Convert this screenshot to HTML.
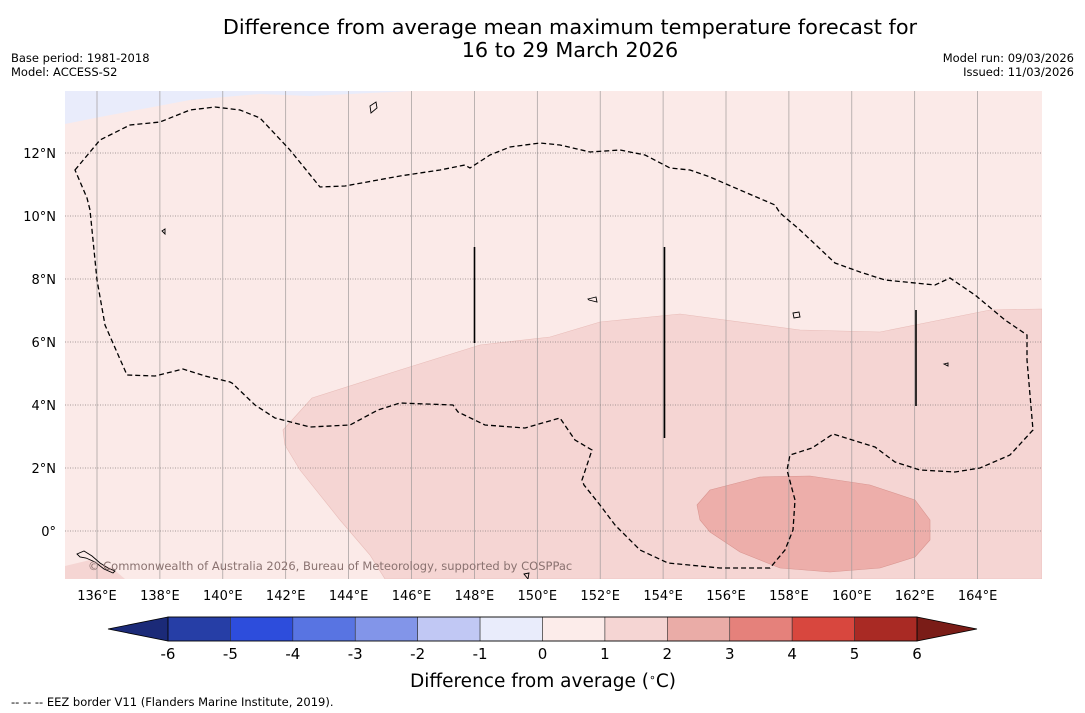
<!DOCTYPE html>
<html><head><meta charset="utf-8"><style>
body{margin:0;width:1085px;height:713px;background:#fff;font-family:"DejaVu Sans","Liberation Sans",sans-serif;overflow:hidden}
svg{position:absolute;left:0;top:0}
</style></head><body>
<svg width="1085" height="713" font-family="DejaVu Sans, Liberation Sans, sans-serif">
<text x="570" y="34" font-size="20.8" text-anchor="middle">Difference from average mean maximum temperature forecast for</text>
<text x="570" y="57" font-size="20.8" text-anchor="middle">16 to 29 March 2026</text>
<text x="11" y="62" font-size="11.5">Base period: 1981-2018</text>
<text x="11" y="76" font-size="11.5">Model: ACCESS-S2</text>
<text x="1074" y="62" font-size="11.5" text-anchor="end">Model run: 09/03/2026</text>
<text x="1074" y="76" font-size="11.5" text-anchor="end">Issued: 11/03/2026</text>
<defs><clipPath id="mc"><rect x="65" y="91" width="977" height="488"/></clipPath></defs>
<g clip-path="url(#mc)">
<rect x="65" y="91" width="977" height="488" fill="#fbeae8"/>
<path d="M65,91 L65,124 L100,117 L190,100 L260,94 L310,96 L410,91 Z" fill="#e9ecfb"/>
<path d="M283,430 L312,398 L400,370 L480,345 L550,337 L600,322 L680,314 L800,330 L880,332 L940,320 L990,310 L1042,309 L1042,579 L385,579 L370,555 L340,520 L300,470 L285,445 Z" fill="#f5d5d3" stroke="#e8bcb8" stroke-width="0.6"/>
<path d="M65,566 L90,560 L112,568 L125,579 L65,579 Z" fill="#f5d5d3"/>
<path d="M697,505 L710,490 L760,477 L810,476 L870,485 L915,500 L930,520 L930,540 L915,557 L880,568 L830,572 L780,568 L740,552 L710,532 L700,520 Z" fill="#edaeaa" stroke="#d99590" stroke-width="0.6"/>
<g id="grid"></g>
<path d="M75,170 L100,140 L130,125 L160,122 L190,110 L215,107 L240,110 L260,118 L290,150 L320,187 L345,186 L400,176 L440,170 L465,165 L470,168 L490,155 L510,147 L540,143 L560,145 L590,152 L620,150 L645,155 L670,168 L690,170 L710,177 L740,190 L775,205 L780,213 L800,230 L835,263 L860,272 L885,280 L935,285 L950,278 L975,295 L1005,320 L1027,335 L1027,360 L1033,430 L1010,455 L980,468 L955,472 L920,470 L895,462 L875,447 L833,434 L812,448 L790,455 L787,470 L795,500 L793,530 L785,550 L770,568 L720,568 L668,563 L640,550 L615,525 L600,505 L584,485 L582,480 L592,450 L575,440 L560,418 L525,428 L485,425 L458,412 L453,405 L400,403 L378,410 L350,425 L310,427 L275,418 L255,405 L232,383 L230,382 L205,376 L183,369 L155,376 L127,375 L105,325 L97,280 L93,240 L90,210 L87,198 Z" fill="none" stroke="#000" stroke-width="1.3" stroke-dasharray="5,3"/>
<line x1="474.5" y1="247" x2="474.5" y2="343" stroke="#000" stroke-width="1.6"/>
<line x1="664.5" y1="247" x2="664.5" y2="438" stroke="#000" stroke-width="1.6"/>
<line x1="916" y1="310" x2="916" y2="406" stroke="#000" stroke-width="1.6"/>
<g fill="none" stroke="#000" stroke-width="0.9">
<path d="M370,106 L376,102 L377,108 L371,113 Z"/><path d="M588,299 L596,297 L597,302 L589,300 Z"/>
<path d="M793,313 L799,312 L800,317 L794,318 Z"/><path d="M162,231 L165,229 L165,234 Z"/>
<path d="M77,554 L84,551 L92,556 L100,563 L108,568 L115,571 L113,573 L104,569 L95,562 L86,558 L80,557 Z"/>
<path d="M944,364 L948,363 L948,366 Z"/><path d="M524,574 L529,573 L528,579 Z"/>
</g>
<text x="88" y="570" font-size="11.5" fill="#8a7270">© Commonwealth of Australia 2026, Bureau of Meteorology, supported by COSPPac</text>
</g>
<g id="axes"></g>
<g id="cbar"></g>
<text x="543" y="687" font-size="18.5" text-anchor="middle">Difference from average (<tspan font-size="11" dy="-6">∘</tspan><tspan dy="6">C)</tspan></text>
<text x="11" y="706" font-size="11.5">--  --  -- EEZ border V11 (Flanders Marine Institute, 2019).</text>
</svg>
<script>
const lonTicks=[136,138,140,142,144,146,148,150,152,154,156,158,160,162,164];
const latTicks=[0,2,4,6,8,10,12];
const levels=[-6,-5,-4,-3,-2,-1,0,1,2,3,4,5,6];
const levelColors=["#263ea6","#2d4ddc","#5874e2","#8295e9","#c1c8f4","#e9ecfb","#fcecea","#f5d5d3","#eaaca7","#e5817b","#d8473e","#a92a24"];
const NS="http://www.w3.org/2000/svg";
function xLon(l){return 97+(l-136)*31.45;}
function yLat(l){return 531-l*31.5;}
function mk(t,a,p){const e=document.createElementNS(NS,t);for(const k in a)e.setAttribute(k,a[k]);p.appendChild(e);return e;}
const grid=document.getElementById('grid'),axes=document.getElementById('axes');
lonTicks.forEach(l=>{
 const x=xLon(l);
 const g=mk('line',{x1:x,y1:91,x2:x,y2:579,stroke:'#a09a9a','stroke-width':0.7},grid);
 
 
 const t=mk('text',{x:x,y:600,'font-size':13,'text-anchor':'middle'},axes);
 t.textContent=l+'°E';
 
 
});
latTicks.forEach(l=>{
 const y=yLat(l);
 const g=mk('line',{x1:65,y1:y,x2:1042,y2:y,stroke:'#8a8080','stroke-width':0.8,'stroke-dasharray':'1,1.5'},grid);
 
 
 const t=mk('text',{x:56,y:y+5,'font-size':13,'text-anchor':'end'},axes);
 t.textContent=l===0?'0°':l+'°N';
 
 
});
const cb=document.getElementById('cbar');
const cx0=168,cx1=917,cy=617,ch=24;
function xLev(v){return cx0+(v-levels[0])/(levels[levels.length-1]-levels[0])*(cx1-cx0);}
const lt=mk('path',{d:`M${cx0},${cy} L108,${cy+ch/2} L${cx0},${cy+ch} Z`,fill:'#1b2a78',stroke:'#000','stroke-width':0.8},cb);


const rt=mk('path',{d:`M${cx1},${cy} L977,${cy+ch/2} L${cx1},${cy+ch} Z`,fill:'#7a1c17',stroke:'#000','stroke-width':0.8},cb);


levelColors.forEach((c,i)=>{
 const x=xLev(levels[i]),w=xLev(levels[i+1])-x;
 const r=mk('rect',{x:x,y:cy,width:w,height:ch,fill:c,stroke:'#333','stroke-width':0.6},cb);
 
 
});
mk('rect',{x:cx0,y:cy,width:cx1-cx0,height:ch,fill:'none',stroke:'#000','stroke-width':0.8},cb);
levels.forEach(v=>{
 const t=mk('text',{x:xLev(v),y:659,'font-size':15,'text-anchor':'middle'},cb);
 t.textContent=v;
 
 
});
</script>
</body></html>
